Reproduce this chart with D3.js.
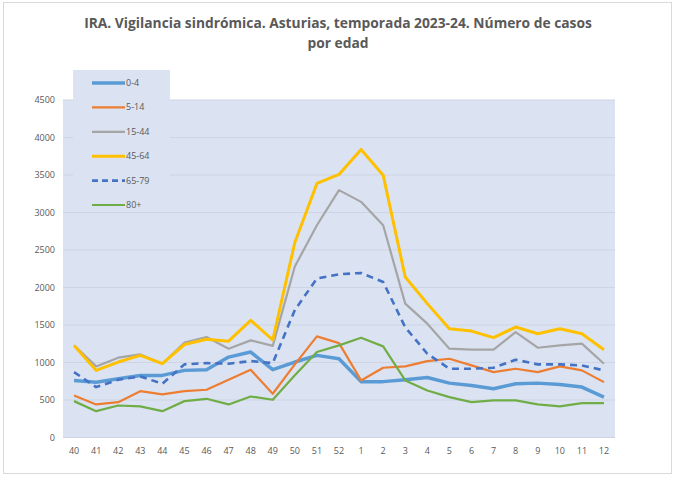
<!DOCTYPE html>
<html><head><meta charset="utf-8">
<script src="https://cdn.jsdelivr.net/npm/d3@7"></script>
<style>body{margin:0;background:#fff}svg{display:block}</style>
</head><body>
<svg id="c" width="675" height="478"></svg>
<script>
const weeks = ["40","41","42","43","44","45","46","47","48","49","50","51","52","1","2","3","4","5","6","7","8","9","10","11","12"];
const yTicks = [0,500,1000,1500,2000,2500,3000,3500,4000,4500];
const s0_4   = [761,738,783,828,828,895,904,1072,1139,904,1006,1095,1050,745,745,770,800,725,694,650,717,725,708,672,538];
const s5_14  = [561,441,471,618,574,618,637,770,904,583,975,1348,1259,761,930,948,1019,1050,961,872,917,872,948,895,738];
const s15_44 = [1228,948,1064,1108,984,1265,1340,1184,1295,1222,2280,2830,3298,3142,2830,1785,1518,1184,1171,1171,1406,1197,1228,1251,984];
const s45_64 = [1228,895,1006,1095,984,1240,1310,1284,1562,1300,2600,3387,3507,3841,3498,2140,1785,1451,1419,1331,1473,1384,1451,1384,1171];
const s65_79 = [872,672,770,814,717,975,992,984,1019,992,1700,2119,2176,2194,2074,1470,1117,917,917,930,1037,975,975,961,895];
const s80    = [485,351,427,414,351,485,516,441,547,503,830,1140,1228,1331,1215,761,627,538,471,494,494,441,414,458,458];

const seriesNames = ["0-4","5-14","15-44","45-64","65-79","80+"];
const seriesData = [s0_4,s5_14,s15_44,s45_64,s65_79,s80];
const colors = ["#5b9bd5","#ed7d31","#a5a5a5","#ffc000","#4472c4","#70ad47"];
const widths = [3.5,2.2,2.2,3,2.6,2.2];
const dashes = [null,null,null,null,"7,5",null];

const svg = d3.select("#c");
const L=63,R=615,T=100,B=437.5;
svg.append("rect").attr("x",3.5).attr("y",2.5).attr("width",668).attr("height",471).attr("fill","#fff").attr("stroke","#d9d9d9");

svg.append("rect").attr("x",L).attr("y",T).attr("width",R-L).attr("height",B-T).attr("fill","#dbe3f2");

const x = d3.scaleBand().domain(weeks).range([L,R]);
const y = d3.scaleLinear().domain([0,4500]).range([B,T]);

svg.append("g").selectAll("line").data(yTicks).join("line")
  .attr("x1",L).attr("x2",R).attr("y1",d=>y(d)).attr("y2",d=>y(d))
  .attr("stroke","#cdd4e2").attr("stroke-width",1);

const yAxis = svg.append("g").attr("transform",`translate(${L-4},0)`)
  .call(d3.axisLeft(y).tickValues(yTicks).tickFormat(d3.format("d")).tickSize(0).tickPadding(4));
yAxis.select(".domain").remove();
yAxis.selectAll("text").attr("font-family","Open Sans, sans-serif").attr("font-size",9).attr("fill","#595959");

const xAxis = svg.append("g").attr("transform",`translate(0,${B+4})`)
  .call(d3.axisBottom(x).tickSize(0).tickPadding(6));
xAxis.select(".domain").remove();
xAxis.selectAll("text").attr("font-family","Open Sans, sans-serif").attr("font-size",9).attr("fill","#595959");

const line = d3.line().x((d,i)=>x(weeks[i])+x.bandwidth()/2).y(d=>y(d));
seriesData.forEach((s,k)=>{
  svg.append("path").datum(s).attr("d",line).attr("fill","none")
    .attr("stroke",colors[k]).attr("stroke-width",widths[k])
    .attr("stroke-linejoin","round")
    .attr("stroke-dasharray",dashes[k]);
});

svg.append("rect").attr("x",73).attr("y",70).attr("width",97).attr("height",142).attr("fill","#dbe3f2");
const lg = svg.append("g");
seriesNames.forEach((n,k)=>{
  const yy = 83 + k*24.4;
  lg.append("line").attr("x1",92).attr("x2",125).attr("y1",yy).attr("y2",yy)
    .attr("stroke",colors[k]).attr("stroke-width",widths[k]).attr("stroke-dasharray",dashes[k]?"6,4":null);
  lg.append("text").attr("x",126).attr("y",yy+3).text(n)
    .attr("font-family","Open Sans, sans-serif").attr("font-size",9).attr("fill","#595959");
});

const title = svg.append("text").attr("text-anchor","middle").attr("font-family","Open Sans, sans-serif")
  .attr("font-weight","bold").attr("font-size",13.8).attr("fill","#595959");
title.append("tspan").attr("x",338).attr("y",28).text("IRA. Vigilancia sindrómica. Asturias, temporada 2023-24. Número de casos");
title.append("tspan").attr("x",338).attr("y",48).text("por edad");
</script>
</body></html>
